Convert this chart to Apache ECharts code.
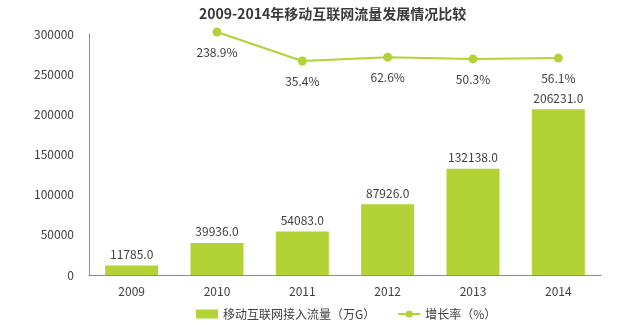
<!DOCTYPE html>
<html>
<head>
<meta charset="utf-8">
<script src="https://cdn.jsdelivr.net/npm/echarts@6/dist/echarts.min.js"></script>
<style>html,body{margin:0;padding:0;background:#fff;}#c{width:620px;height:325px;}</style>
</head>
<body>
<div id="c"></div>
<script>
var titleText = '2009-2014年移动互联网流量发展情况比较';
var years = ['2009', '2010', '2011', '2012', '2013', '2014'];
var traffic = [11785.0, 39936.0, 54083.0, 87926.0, 132138.0, 206231.0];
var growth = [null, 238.9, 35.4, 62.6, 50.3, 56.1];
var barName = '移动互联网接入流量（万G）';
var lineName = '增长率（%）';
var yTicks = { min: 0, max: 300000, interval: 50000 };

var FONT = '"Noto Sans CJK SC", "Noto Sans", sans-serif';
var TXT = '#404040';
var chart = echarts.init(document.getElementById('c'), null, { renderer: 'canvas' });
chart.setOption({
  animation: false,
  backgroundColor: '#ffffff',
  textStyle: { fontFamily: FONT },
  title: {
    text: titleText,
    left: 194, top: 2,
    textStyle: { fontSize: 14, fontWeight: 'bold', color: '#3a3a3a', fontFamily: FONT }
  },
  legend: {
    left: 191, top: 303,
    itemWidth: 22, itemHeight: 9, itemGap: 22,
    textStyle: { fontSize: 12, color: TXT, fontFamily: FONT },
    data: [{ name: barName, icon: 'rect' }, { name: lineName }]
  },
  grid: { left: 89, right: 19, top: 34, bottom: 50, containLabel: false },
  xAxis: {
    type: 'category', data: years,
    axisLine: { show: true, lineStyle: { color: '#8c8c8c', width: 1 } },
    axisTick: { show: false },
    axisLabel: { color: TXT, fontSize: 12, margin: 10, fontFamily: FONT }
  },
  yAxis: [{
    type: 'value', min: yTicks.min, max: yTicks.max, interval: yTicks.interval,
    axisLine: { show: true, lineStyle: { color: '#8c8c8c', width: 1 } },
    axisTick: { show: false },
    splitLine: { show: false },
    axisLabel: { color: TXT, fontSize: 12, margin: 15, fontFamily: FONT,
      formatter: function (v) { return String(v); } }
  }, {
    type: 'value', show: false, min: -1466, max: 225,
    splitLine: { show: false }
  }],
  series: [{
    name: barName, type: 'bar', data: traffic, barWidth: 53,
    itemStyle: { color: '#b2d235' },
    label: { show: true, position: 'top', distance: 5, color: TXT, fontSize: 12, fontFamily: FONT,
      formatter: function (p) { return p.value.toFixed(1); } }
  }, {
    name: lineName, type: 'line', yAxisIndex: 1, data: growth, clip: false,
    symbol: 'circle', symbolSize: 9, connectNulls: false,
    lineStyle: { color: '#b2d235', width: 2 },
    itemStyle: { color: '#b2d235' },
    label: { show: true, position: 'bottom', distance: 10, color: TXT, fontSize: 12, fontFamily: FONT,
      formatter: function (p) { return p.value.toFixed(1) + '%'; } }
  }]
});
</script>
</body>
</html>
